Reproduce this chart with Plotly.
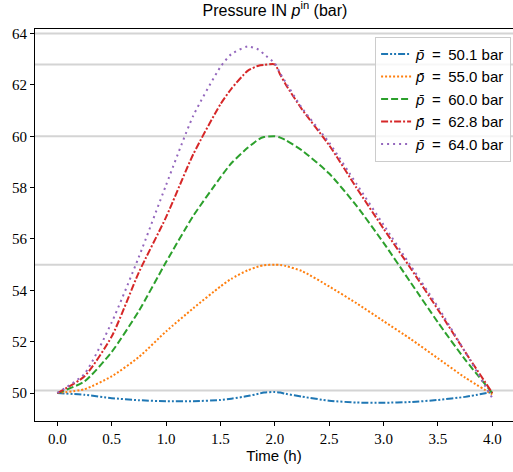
import plotly.graph_objects as go

# ---- data ----
t = [0.0, 0.25, 0.5, 0.75, 1.0, 1.25, 1.5, 1.6, 1.75, 1.85, 1.9, 2.0, 2.05, 2.1, 2.25, 2.5, 2.75, 3.0, 3.25, 3.5, 3.75, 4.0]

p_50_1 = [50.0, 49.93, 49.8, 49.72, 49.68, 49.68, 49.73, 49.78, 49.88, 49.97, 50.02, 50.04, 50.02, 49.97, 49.86, 49.7, 49.63, 49.62, 49.65, 49.73, 49.85, 50.04]
p_55_0 = [50.0, 50.15, 50.65, 51.4, 52.4, 53.3, 54.15, 54.45, 54.78, 54.93, 54.98, 55.0, 54.99, 54.95, 54.75, 54.15, 53.5, 52.8, 52.1, 51.35, 50.6, 49.95]
p_60_0 = [50.0, 50.45, 51.6, 53.2, 55.1, 56.9, 58.4, 58.95, 59.55, 59.88, 59.97, 60.0, 59.95, 59.85, 59.45, 58.55, 57.3, 55.85, 54.3, 52.75, 51.3, 50.0]
p_62_8 = [50.0, 50.65, 52.2, 54.7, 56.85, 59.3, 61.25, 61.85, 62.55, 62.75, 62.78, 62.8, 62.4, 62.02, 61.05, 59.65, 58.0, 56.4, 54.85, 53.25, 51.6, 50.0]
p_64_0 = [50.0, 50.75, 52.75, 55.3, 58.1, 60.8, 62.7, 63.2, 63.5, 63.38, 63.2, 62.84, 62.45, 62.1, 61.1, 59.75, 58.15, 56.55, 54.95, 53.35, 51.6, 49.8]

pbar = [50.1, 55.0, 60.0, 62.8, 64.0]
series = [p_50_1, p_55_0, p_60_0, p_62_8, p_64_0]
labels = [f"<i>p\u0304</i>\u2002=\u2002{v:.1f} bar" for v in pbar]
colors = ["#1f77b4", "#ff7f0e", "#2ca02c", "#d62728", "#9467bd"]
dashes = ["7px,2px,2px,2px,2px,2px", "2px,2px", "7px,3px", "7px,2px,2px,2px", "2px,4px"]

x_ticks = [0.0, 0.5, 1.0, 1.5, 2.0, 2.5, 3.0, 3.5, 4.0]
y_ticks = [50, 52, 54, 56, 58, 60, 62, 64]

fig = go.Figure()
for v in pbar:
    fig.add_hline(y=v, line=dict(color="#d4d4d4", width=2), layer="below")

for i, (ys, lab) in enumerate(zip(series, labels)):
    fig.add_trace(go.Scatter(
        x=t, y=ys, mode="lines", name=lab, legendgroup=str(i),
        line=dict(color=colors[i], width=2, dash=dashes[i], shape="spline", smoothing=0.6),
    ))

sans = "Liberation Sans"
serif = "Liberation Serif"

fig.update_layout(
    width=513, height=472,
    margin=dict(l=35, r=0, t=29, b=51, autoexpand=False),
    plot_bgcolor="white", paper_bgcolor="white",
    title=dict(text="Pressure IN <i>p</i><sup>in</sup> (bar)", x=(275 / 513), xanchor="center",
               y=0.978, yanchor="middle", font=dict(family=sans, size=16, color="black")),
    xaxis=dict(range=[-0.205, 4.19], tickvals=x_ticks, tickformat=".1f", automargin=False,
               ticks="outside", ticklen=4, tickcolor="black", showgrid=False, zeroline=False,
               showline=True, linecolor="black", linewidth=1, mirror=True,
               tickfont=dict(family=serif, size=15, color="black"),
               title=dict(text="Time (h)", font=dict(family=sans, size=15, color="black"), standoff=3)),
    yaxis=dict(range=[48.91, 64.18], tickvals=y_ticks, automargin=False,
               ticks="outside", ticklen=4, tickcolor="black", showgrid=False, zeroline=False,
               showline=True, linecolor="black", linewidth=1, mirror=False,
               tickfont=dict(family=serif, size=15, color="black")),
    legend=dict(x=0.996, y=0.98, xanchor="right", yanchor="top",
                bgcolor="rgba(255,255,255,0.8)", bordercolor="#cccccc", borderwidth=1,
                font=dict(family=sans, size=15, color="black"), tracegroupgap=0),
    showlegend=True,
)

fig.write_html("out.html", post_script="document.body.style.margin='0px';",
               config={"displayModeBar": False})
